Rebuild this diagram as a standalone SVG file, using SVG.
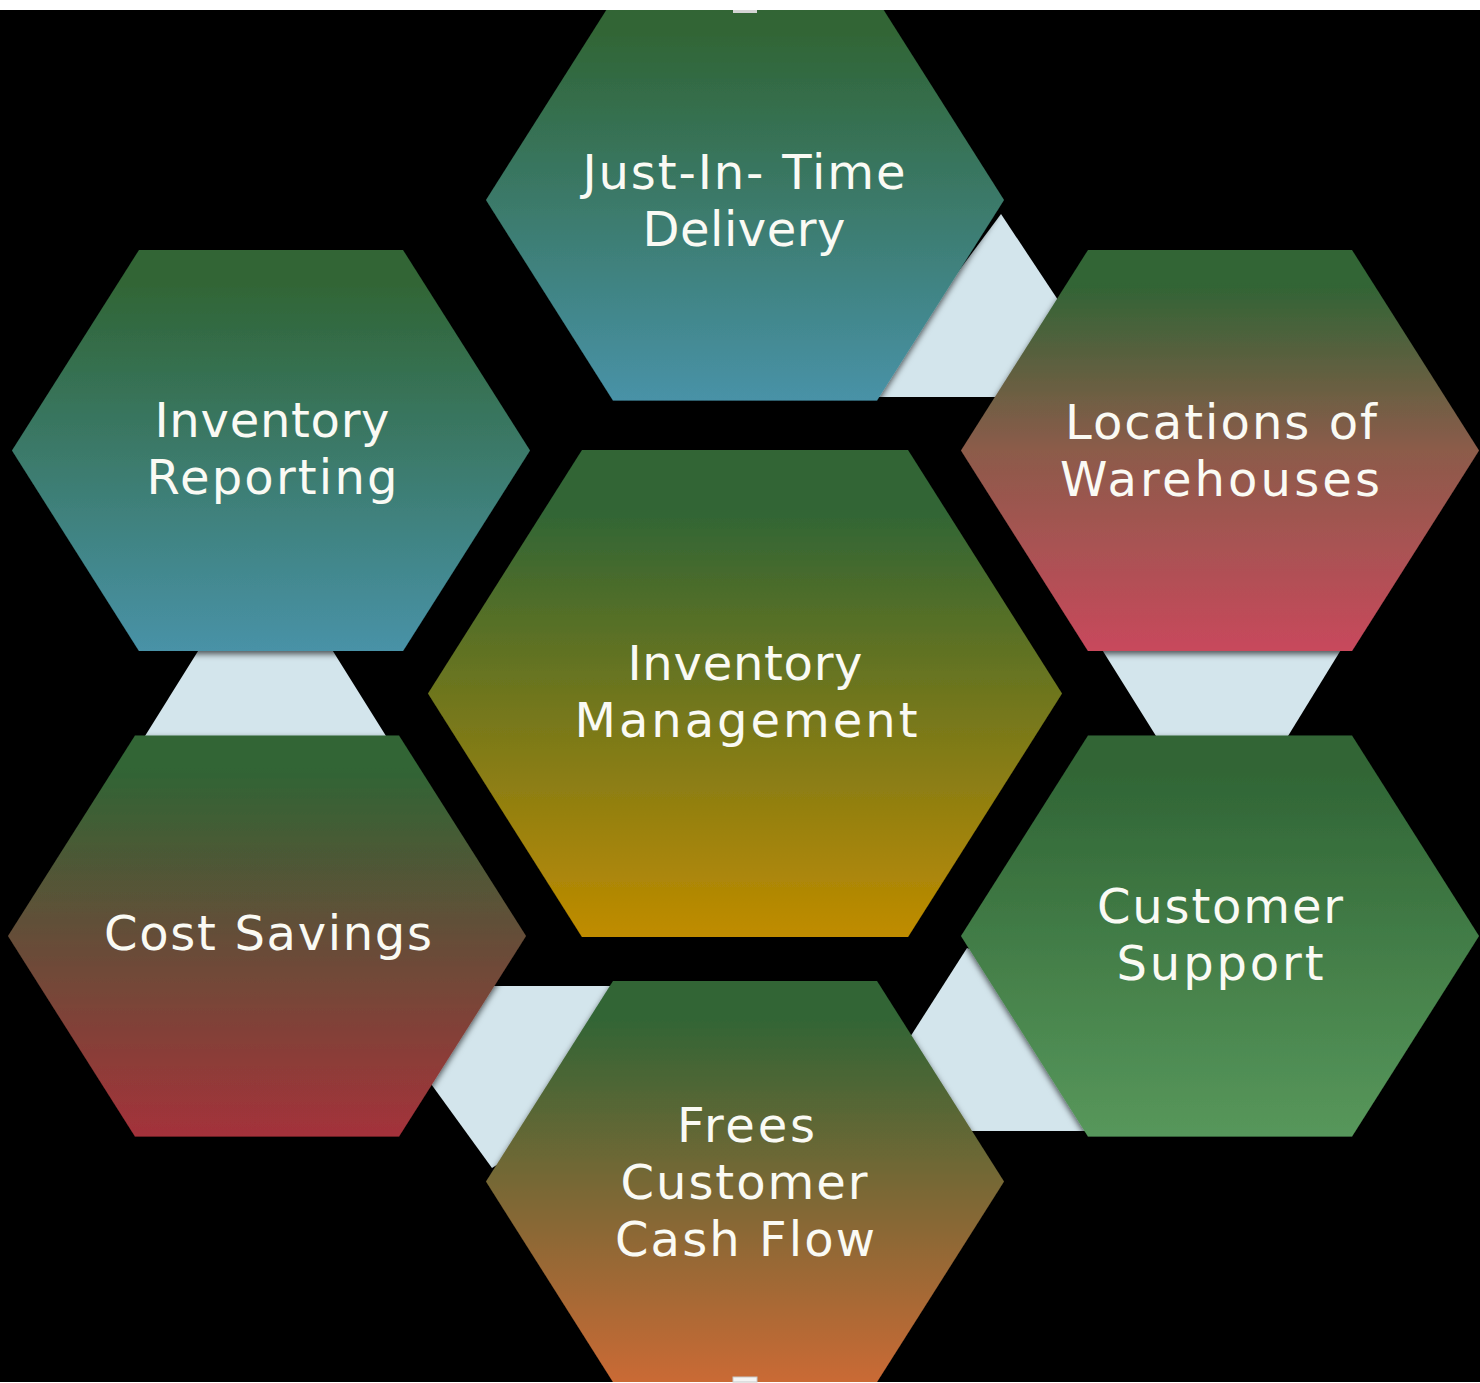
<svg xmlns="http://www.w3.org/2000/svg" width="1480" height="1383" viewBox="0 0 1480 1383">
  <style>
    .lbl { font-family: "DejaVu Sans", Verdana, sans-serif; font-size: 48px; fill: #fafaf4; text-anchor: middle; }
    .link { fill: #d3e5ec; }
  </style>
  <defs>
    <filter id="sh" x="-10%" y="-10%" width="120%" height="130%">
      <feDropShadow dx="0" dy="3" stdDeviation="3" flood-color="#000" flood-opacity="0.65"/>
    </filter>
    <linearGradient id="gTeal" x1="0" y1="0" x2="0" y2="1">
      <stop offset="0.08" stop-color="#306535"/>
      <stop offset="1" stop-color="#4892a7"/>
    </linearGradient>
    <linearGradient id="gRose" x1="0" y1="0" x2="0" y2="1">
      <stop offset="0.08" stop-color="#306535"/>
      <stop offset="0.5" stop-color="#8c5b4a"/>
      <stop offset="1" stop-color="#c8495c"/>
    </linearGradient>
    <linearGradient id="gGold" x1="0" y1="0" x2="0" y2="1">
      <stop offset="0.12" stop-color="#306535"/>
      <stop offset="1" stop-color="#c08c00"/>
    </linearGradient>
    <linearGradient id="gGreen" x1="0" y1="0" x2="0" y2="1">
      <stop offset="0.08" stop-color="#306535"/>
      <stop offset="1" stop-color="#57975b"/>
    </linearGradient>
    <linearGradient id="gRed" x1="0" y1="0" x2="0" y2="1">
      <stop offset="0.08" stop-color="#306535"/>
      <stop offset="1" stop-color="#a4323a"/>
    </linearGradient>
    <linearGradient id="gOrange" x1="0" y1="0" x2="0" y2="1">
      <stop offset="0.08" stop-color="#306535"/>
      <stop offset="1" stop-color="#ca6a36"/>
    </linearGradient>
  </defs>

  <rect x="0" y="0" width="1480" height="1383" fill="#000"/>

  <g id="connectors">
    <polygon class="link" points="1001,214 1062,306 1000,397 865,397"/>
    <polygon class="link" points="1096,640 1347,640 1282.5,745 1161.6,745"/>
    <polygon class="link" points="967,948 905,1045 965,1131 1100,1131 1000,960"/>
    <polygon class="link" points="480,986 625,986 520,1150 492,1168 426,1077"/>
    <polygon class="link" points="204.9,640 326,640 391.6,745 139.4,745"/>
  </g>

  <g id="node-jit">
    <polygon filter="url(#sh)" fill="url(#gTeal)" points="613,-0.5 877,-0.5 1004,200 877,400.5 613,400.5 486,200"/>
    <text class="lbl" x="744" y="189" textLength="323" lengthAdjust="spacing">Just-In- Time</text>
    <text class="lbl" x="744" y="246" textLength="203" lengthAdjust="spacing">Delivery</text>
  </g>

  <g id="node-reporting">
    <polygon filter="url(#sh)" fill="url(#gTeal)" points="139,250 403,250 530,450.5 403,651 139,651 12,450.5"/>
    <text class="lbl" x="272" y="437" textLength="235" lengthAdjust="spacing">Inventory</text>
    <text class="lbl" x="272" y="494" textLength="251" lengthAdjust="spacing">Reporting</text>
  </g>

  <g id="node-locations">
    <polygon filter="url(#sh)" fill="url(#gRose)" points="1088,250 1352,250 1479,450.5 1352,651 1088,651 961,450.5"/>
    <text class="lbl" x="1221" y="439" textLength="312" lengthAdjust="spacing">Locations of</text>
    <text class="lbl" x="1220" y="496" textLength="320" lengthAdjust="spacing">Warehouses</text>
  </g>

  <g id="node-center">
    <polygon filter="url(#sh)" fill="url(#gGold)" points="582,450 908,450 1062,693.5 908,937 582,937 428,693.5"/>
    <text class="lbl" x="745" y="680" textLength="235" lengthAdjust="spacing">Inventory</text>
    <text class="lbl" x="746" y="737" textLength="343" lengthAdjust="spacing">Management</text>
  </g>

  <g id="node-cost">
    <polygon filter="url(#sh)" fill="url(#gRed)" points="135,735.5 399,735.5 526,936 399,1136.5 135,1136.5 8,936"/>
    <text class="lbl" x="268" y="950" textLength="328" lengthAdjust="spacing">Cost Savings</text>
  </g>

  <g id="node-support">
    <polygon filter="url(#sh)" fill="url(#gGreen)" points="1088,735.5 1352,735.5 1479,936 1352,1136.5 1088,1136.5 961,936"/>
    <text class="lbl" x="1220" y="923" textLength="246" lengthAdjust="spacing">Customer</text>
    <text class="lbl" x="1220" y="980" textLength="207" lengthAdjust="spacing">Support</text>
  </g>

  <g id="node-cashflow">
    <polygon filter="url(#sh)" fill="url(#gOrange)" points="613,981 877,981 1004,1181.5 877,1382 613,1382 486,1181.5"/>
    <text class="lbl" x="746" y="1142" textLength="138" lengthAdjust="spacing">Frees</text>
    <text class="lbl" x="744" y="1199" textLength="247" lengthAdjust="spacing">Customer</text>
    <text class="lbl" x="745" y="1256" textLength="260" lengthAdjust="spacing">Cash Flow</text>
  </g>

  <rect x="0" y="0" width="1480" height="10" fill="#fff"/>
  <rect x="0" y="1382" width="1480" height="1" fill="#fff"/>
  <rect x="733" y="10" width="24" height="3" fill="#d4d4d4"/>
  <rect x="733" y="1377" width="24" height="5" fill="#f4f4f4" stroke="#c8c8c8" stroke-width="1"/>
</svg>
